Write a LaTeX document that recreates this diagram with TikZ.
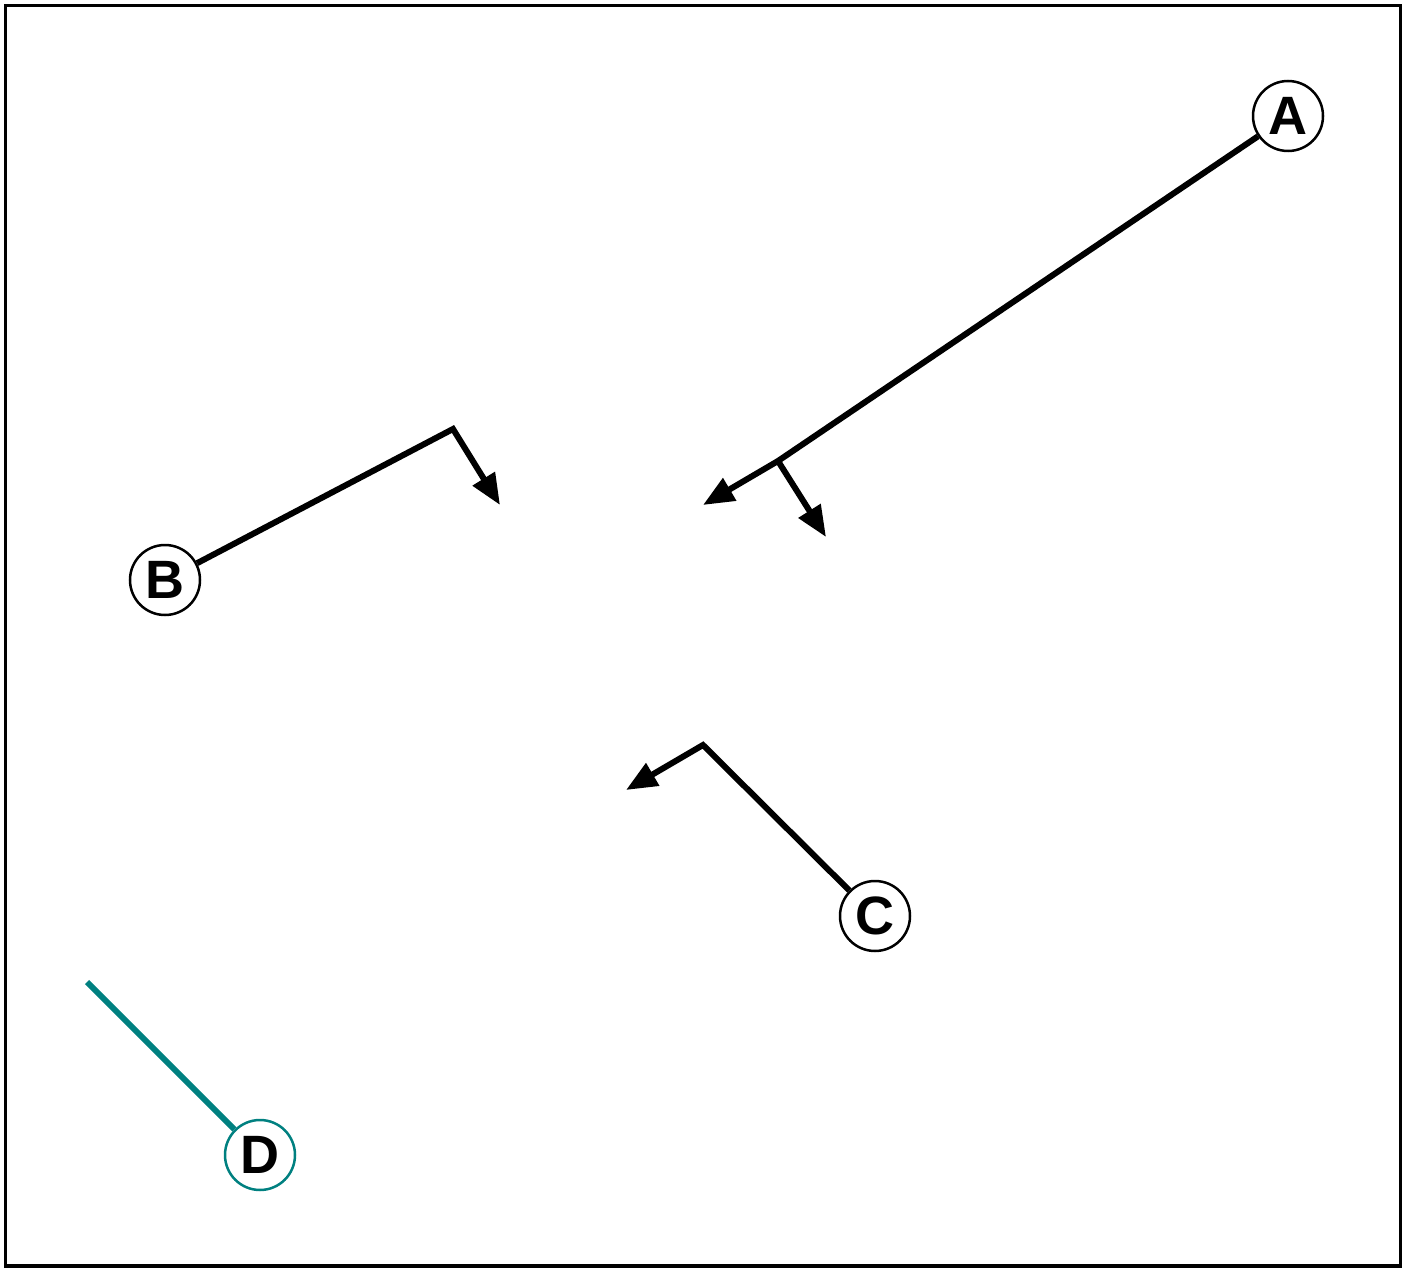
\documentclass[tikz,border=0pt]{standalone}
\usepackage{fontspec}
\setmainfont{Liberation Sans}
\usetikzlibrary{arrows.meta}
\definecolor{tealline}{RGB}{0,128,128}

\begin{document}
\begin{tikzpicture}[x=1pt,y=-1pt,>={Triangle[length=31pt,width=25pt]},
  every node/.style={align=center},
  marker/.style={circle,draw,fill=white,line width=2.5pt,minimum size=70pt,inner sep=0pt,
    font=\fontsize{54}{54}\selectfont\bfseries},
  leg/.style={line width=6pt}]
\useasboundingbox (0,0) rectangle (1409,1268);
\draw[line width=3.5pt] (5.5,5.5) rectangle (1400.5,1266);
\coordinate (ka) at (778,461);
\coordinate (kb) at (453,429);
\coordinate (kc) at (703,745);
\coordinate (ta) at (703,505);
\coordinate (tab) at (826,537);
\coordinate (tb) at (500,505);
\coordinate (tc) at (626,790);
\coordinate (td) at (87,982);
\node[marker] (a) at (1288,116) {A};
\node[marker] (b) at (165,580) {B};
\node[marker] (c) at (875,916) {C};
\node[marker,draw=tealline] (d) at (260,1155) {D};
\draw[leg,->] (a)--(ka)--(ta);
\draw[leg,->] (ka)--(tab);
\draw[leg,->] (b)--(kb)--(tb);
\draw[leg,->] (c)--(kc)--(tc);
\draw[leg,tealline] (d)--(td);
\end{tikzpicture}
\end{document}
